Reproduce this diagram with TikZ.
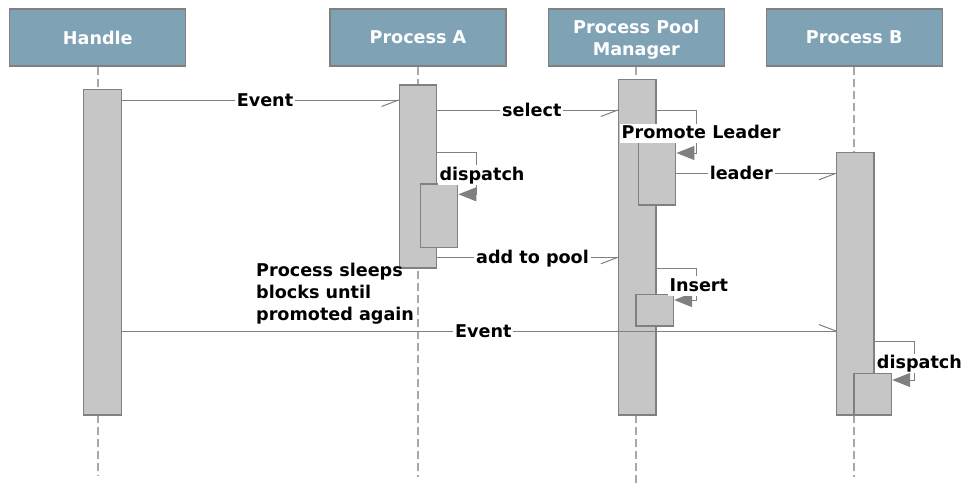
\documentclass[tikz,border=0pt]{standalone}
\usepackage{fontspec}
\setmainfont{DejaVu Sans}
\usetikzlibrary{arrows.meta}
\definecolor{hdrfill}{RGB}{127,162,181}
\definecolor{actfill}{RGB}{198,198,198}
\definecolor{edgec}{RGB}{128,128,128}
\definecolor{lifec}{RGB}{168,168,168}
\begin{document}
\begin{tikzpicture}[x=1pt,y=-1pt,
  hdr/.style={draw=edgec, line width=1.2pt, fill=hdrfill, minimum width=176pt, minimum height=57pt,
    text=white, text depth=0pt, font=\bfseries\fontsize{17.6}{22}\selectfont, align=center, inner sep=0pt},
  life/.style={draw=lifec, line width=2pt, dash pattern=on 8pt off 4pt},
  act/.style={draw=edgec, line width=1.3pt, fill=actfill, minimum width=37.5pt, inner sep=0pt},
  msg/.style={draw=edgec, line width=1pt},
  selfmsg/.style={draw=edgec, line width=1pt, -{Triangle[length=18pt,width=14pt]}, fill=none},
  lbl/.style={fill=white, inner xsep=2pt, inner ysep=1pt, text height=12.8pt, text depth=0pt,
    font=\bfseries\fontsize{17.6}{22}\selectfont},
  slbl/.style={fill=white, inner xsep=2pt, inner ysep=2pt, text height=12.8pt, text depth=3pt,
    anchor=base west, font=\bfseries\fontsize{17.6}{22}\selectfont},
  note/.style={align=left, anchor=north west, inner sep=0pt, font=\bfseries\fontsize{17.6}{22}\selectfont}
]
\useasboundingbox (0,0) rectangle (964,485);

% headers
\node[hdr] (hH) at (97.8,37.5) {Handle};
\node[hdr] (hA) at (418,37.5) {Process A};
\node[hdr] (hM) at (636.3,37.5) {Process Pool\\Manager};
\node[hdr] (hB) at (854.2,37.5) {Process B};

% lifeline ends
\coordinate (eH) at (97.8,476);
\coordinate (eA) at (418,477);
\coordinate (eM) at (636.3,483);
\coordinate (eB) at (854.2,477);

\draw[life] (hH.south) -- (eH);
\draw[life] (hA.south) -- (eA);
\draw[life] (hM.south) -- (eM);
\draw[life] (hB.south) -- (eB);

% activations
\node[act, minimum height=325.5pt] (actH) at (102.5,252.2) {};
\node[act, minimum height=183pt] (actA) at (418,176.5) {};
\node[act, minimum height=63.3pt] (actA2) at (439,215.6) {};
\node[act, minimum height=335.7pt] (actM) at (637.2,247.2) {};
\node[act, minimum height=62.7pt] (actM2) at (657,173.7) {};
\node[act, minimum height=31.7pt] (actM3) at (654.7,310.2) {};
\node[act, minimum height=262.3pt] (actB) at (855.3,283.8) {};
\node[act, minimum height=41.7pt] (actB2) at (872.8,394.2) {};

% Event 1
\draw[msg] (actH.east |- 0,100) -- (actA.west |- 0,100);
\draw[msg] (actA.west |- 0,100) -- ++(-17,6.5);
\node[lbl] (lEv1) at (265,100) {Event};

% select
\draw[msg] (actA.east |- 0,110) -- (actM.west |- 0,110);
\draw[msg] (actM.west |- 0,110) -- ++(-17,6.5);
\node[lbl] (lSel) at (531.8,110) {select};

% Promote Leader (self)
\draw[selfmsg] (actM.east |- 0,110) -- (696,110) -- (696,153) -- (actM2.east |- 0,153);
\node[slbl] (lProm) at (619.5,138.3) {Promote Leader};

% dispatch A (self)
\draw[selfmsg] (actA.east |- 0,152.3) -- (476.7,152.3) -- (476.7,194.3) -- (actA2.east |- 0,194.3);
\node[slbl] (lDisA) at (437.3,180) {dispatch};

% leader
\draw[msg] (actM2.east |- 0,173.3) -- (actB.west |- 0,173.3);
\draw[msg] (actB.west |- 0,173.3) -- ++(-17,6.5);
\node[lbl] (lLead) at (741.3,173.3) {leader};

% add to pool
\draw[msg] (actA.east |- 0,257.3) -- (actM.west |- 0,257.3);
\draw[msg] (actM.west |- 0,257.3) -- ++(-17,6.5);
\node[lbl] (lAdd) at (532.5,257.3) {add to pool};

% Insert (self)
\draw[selfmsg] (actM.east |- 0,268.3) -- (696,268.3) -- (696,300) -- (actM3.east |- 0,300);
\node[slbl] (lIns) at (667.3,291) {Insert};

% Event 2
\draw[msg] (actH.east |- 0,331) -- (actB.west |- 0,331);
\draw[msg] (actB.west |- 0,331) -- ++(-17,-6.5);
\node[lbl] (lEv2) at (483.3,331) {Event};

% dispatch B (self)
\draw[selfmsg] (actB.east |- 0,341.7) -- (914,341.7) -- (914,380) -- (actB2.east |- 0,380);
\node[slbl] (lDisB) at (874.7,368.3) {dispatch};

% note
\node[note] (nSleep) at (256,263) {Process sleeps\\blocks until\\promoted again};
\end{tikzpicture}
\end{document}
